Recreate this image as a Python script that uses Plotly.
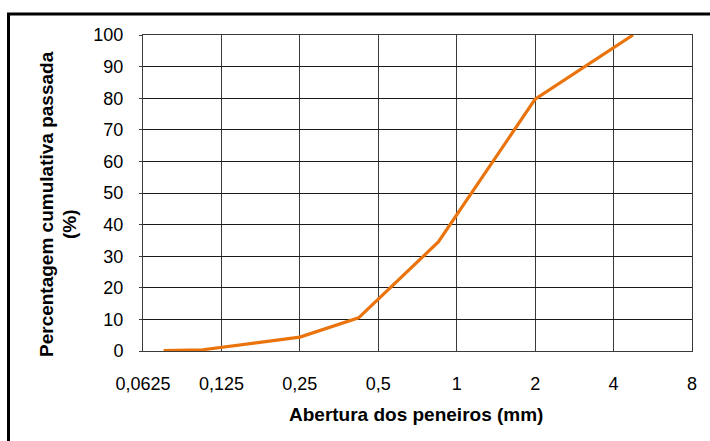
import math
import plotly.graph_objects as go

# Sieve analysis: opening (mm) vs cumulative percentage passing
abertura_mm = [0.075, 0.106, 0.25, 0.42, 0.85, 2.0, 4.75]
passada_pct = [0.1, 0.4, 4.4, 10.5, 34.5, 79.7, 100.0]

x_tick_vals = [0.0625, 0.125, 0.25, 0.5, 1, 2, 4, 8]
x_tick_text = ["0,0625", "0,125", "0,25", "0,5", "1", "2", "4", "8"]
y_tick_vals = [0, 10, 20, 30, 40, 50, 60, 70, 80, 90, 100]

x_title = "Abertura dos peneiros (mm)"
y_title_main = "Percentagem cumulativa passada"
y_title_unit = "(%)"

FONT = "Liberation Sans, Arial, sans-serif"
W, H = 710, 441
ML, MR, MT, MB = 143, 18, 35, 90
PW, PH = W - ML - MR, H - MT - MB


def px_x(p):
    return (p - ML) / PW


def px_y(p):
    return (H - MB - p) / PH


fig = go.Figure()
fig.add_trace(go.Scatter(
    x=abertura_mm, y=passada_pct, mode="lines",
    line=dict(color="#EA730C", width=3.2),
    showlegend=False, hoverinfo="skip", cliponaxis=True,
))

fig.update_layout(
    width=W, height=H,
    margin=dict(l=ML, r=MR, t=MT, b=MB),
    paper_bgcolor="white", plot_bgcolor="white",
    font=dict(family=FONT, size=18, color="black"),
    xaxis=dict(
        type="log",
        range=[math.log10(0.0625), math.log10(8)],
        tickvals=x_tick_vals, ticktext=x_tick_text,
        showgrid=True, gridcolor="#3a3a3a", gridwidth=1,
        showline=True, linecolor="#3a3a3a", linewidth=1, mirror=True,
        ticks="", ticklabelstandoff=16,
        tickfont=dict(family=FONT, size=18, color="black"),
        zeroline=False,
    ),
    yaxis=dict(
        range=[0, 100],
        tickvals=y_tick_vals,
        showgrid=True, gridcolor="#1a1a1a", gridwidth=1,
        showline=True, linecolor="#3a3a3a", linewidth=1, mirror=True,
        ticks="outside", ticklen=3, tickcolor="#3a3a3a",
        ticklabelstandoff=12,
        tickfont=dict(family=FONT, size=18, color="black"),
        zeroline=False,
    ),
    annotations=[
        dict(text="<b>%s</b>" % x_title, xref="paper", yref="paper",
             x=px_x(416), y=px_y(414), xanchor="center", yanchor="middle",
             showarrow=False, font=dict(family=FONT, size=19, color="black")),
        dict(text="<b>%s</b>" % y_title_main, xref="paper", yref="paper",
             x=px_x(46), y=px_y(204), xanchor="center", yanchor="middle",
             textangle=-90, showarrow=False,
             font=dict(family=FONT, size=19, color="black")),
        dict(text="<b>%s</b>" % y_title_unit, xref="paper", yref="paper",
             x=px_x(69), y=px_y(224), xanchor="center", yanchor="middle",
             textangle=-90, showarrow=False,
             font=dict(family=FONT, size=19, color="black")),
    ],
    shapes=[
        dict(type="rect", xref="paper", yref="paper",
             x0=px_x(8.5), x1=px_x(W + 10), y0=px_y(H + 10), y1=px_y(14),
             line=dict(color="black", width=3), fillcolor="rgba(0,0,0,0)",
             layer="above"),
    ],
)

fig.write_html("out.html")
